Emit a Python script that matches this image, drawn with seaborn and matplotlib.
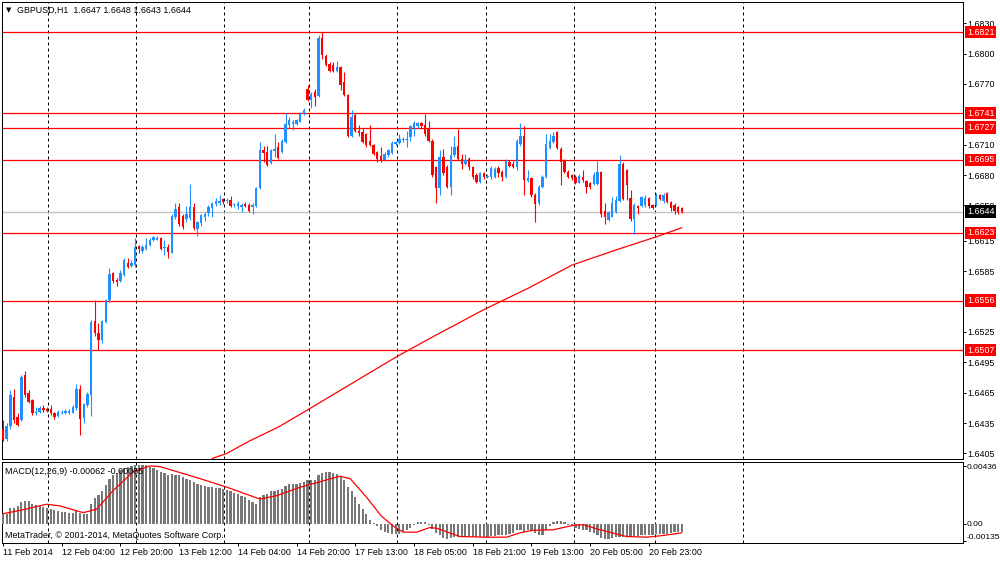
import matplotlib
matplotlib.use("Agg")
import matplotlib.pyplot as plt
import matplotlib.transforms as mtransforms
import numpy as np
import pandas as pd
import seaborn as sns

# ---------------- data ----------------
opens = [
    1.6429, 1.6419, 1.6432, 1.6461, 1.6441, 1.6438, 1.6482, 1.6465, 1.6458, 1.6445,
    1.6446, 1.6450, 1.6449, 1.6449, 1.6445, 1.6442, 1.6445, 1.6445, 1.6445, 1.6445,
    1.6450, 1.6469, 1.6440, 1.6453, 1.6463, 1.6536, 1.6524, 1.6517, 1.6535, 1.6557,
    1.6583, 1.6576, 1.6575, 1.6581, 1.6593, 1.6590, 1.6591, 1.6610, 1.6605, 1.6607,
    1.6611, 1.6616, 1.6616, 1.6618, 1.6608, 1.6609, 1.6603, 1.6639, 1.6648, 1.6640,
    1.6637, 1.6638, 1.6648, 1.6627, 1.6633, 1.6639, 1.6643, 1.6647, 1.6651, 1.6652,
    1.6656, 1.6654, 1.6655, 1.6650, 1.6649, 1.6648, 1.6651, 1.6650, 1.6648, 1.6649,
    1.6667, 1.6705, 1.6703, 1.6692, 1.6704, 1.6708, 1.6703, 1.6713, 1.6729, 1.6730,
    1.6730, 1.6732, 1.6740, 1.6765, 1.6754, 1.6762, 1.6758, 1.6815, 1.6798, 1.6790,
    1.6789, 1.6783, 1.6787, 1.6772, 1.6759, 1.6719, 1.6739, 1.6724, 1.6723, 1.6721,
    1.6714, 1.6710, 1.6703, 1.6699, 1.6695, 1.6700, 1.6702, 1.6711, 1.6712, 1.6715,
    1.6715, 1.6718, 1.6727, 1.6728, 1.6731, 1.6729, 1.6726, 1.6714, 1.6688, 1.6667,
    1.6698, 1.6688, 1.6668, 1.6700, 1.6709, 1.6696, 1.6691, 1.6696, 1.6688, 1.6680,
    1.6673, 1.6682, 1.6678, 1.6678, 1.6678, 1.6687, 1.6683, 1.6678, 1.6693, 1.6691,
    1.6688, 1.6711, 1.6719, 1.6674, 1.6677, 1.6660, 1.6652, 1.6668, 1.6678, 1.6707,
    1.6713, 1.6723, 1.6706, 1.6695, 1.6683, 1.6680, 1.6678, 1.6672, 1.6678, 1.6674,
    1.6672, 1.6671, 1.6671, 1.6683, 1.6645, 1.6636, 1.6639, 1.6644, 1.6654, 1.6691,
    1.6685, 1.6657, 1.6637, 1.6649, 1.6649, 1.6650, 1.6657, 1.6650, 1.6650, 1.6660,
    1.6654, 1.6662, 1.6653, 1.6650, 1.6648, 1.6647,
]
highs = [
    1.6438, 1.6435, 1.6468, 1.6469, 1.6445, 1.6482, 1.6486, 1.6468, 1.6459, 1.6451,
    1.6452, 1.6453, 1.6451, 1.6453, 1.6446, 1.6448, 1.6448, 1.6449, 1.6449, 1.6453,
    1.6474, 1.6473, 1.6455, 1.6466, 1.6537, 1.6557, 1.6534, 1.6537, 1.6558, 1.6588,
    1.6584, 1.6578, 1.6586, 1.6598, 1.6598, 1.6596, 1.6618, 1.6611, 1.6611, 1.6618,
    1.6618, 1.6620, 1.6620, 1.6619, 1.6616, 1.6612, 1.6642, 1.6652, 1.6652, 1.6642,
    1.6649, 1.6671, 1.6652, 1.6635, 1.6642, 1.6644, 1.6650, 1.6653, 1.6657, 1.6660,
    1.6657, 1.6657, 1.6659, 1.6652, 1.6654, 1.6652, 1.6653, 1.6652, 1.6652, 1.6668,
    1.6713, 1.6709, 1.6709, 1.6706, 1.6721, 1.6713, 1.6716, 1.6741, 1.6737, 1.6734,
    1.6735, 1.6742, 1.6746, 1.6769, 1.6762, 1.6765, 1.6818, 1.6821, 1.6800, 1.6792,
    1.6792, 1.6793, 1.6788, 1.6782, 1.6760, 1.6744, 1.6741, 1.6729, 1.6727, 1.6722,
    1.6729, 1.6711, 1.6704, 1.6708, 1.6703, 1.6706, 1.6714, 1.6714, 1.6721, 1.6718,
    1.6724, 1.6729, 1.6733, 1.6732, 1.6732, 1.6740, 1.6733, 1.6716, 1.6689, 1.6705,
    1.6706, 1.6690, 1.6709, 1.6719, 1.6726, 1.6701, 1.6701, 1.6698, 1.6689, 1.6682,
    1.6683, 1.6683, 1.6681, 1.6689, 1.6688, 1.6689, 1.6685, 1.6696, 1.6695, 1.6694,
    1.6716, 1.6731, 1.6728, 1.6685, 1.6678, 1.6662, 1.6670, 1.6680, 1.6721, 1.6721,
    1.6723, 1.6724, 1.6708, 1.6696, 1.6685, 1.6681, 1.6680, 1.6681, 1.6685, 1.6675,
    1.6673, 1.6683, 1.6694, 1.6684, 1.6652, 1.6645, 1.6658, 1.6659, 1.6700, 1.6693,
    1.6686, 1.6665, 1.6652, 1.6650, 1.6659, 1.6660, 1.6658, 1.6651, 1.6662, 1.6661,
    1.6662, 1.6663, 1.6654, 1.6652, 1.6649, 1.6648,
]
lows = [
    1.6417, 1.6417, 1.6429, 1.6435, 1.6432, 1.6437, 1.6461, 1.6455, 1.6443, 1.6443,
    1.6445, 1.6446, 1.6446, 1.6443, 1.6439, 1.6441, 1.6444, 1.6444, 1.6444, 1.6445,
    1.6448, 1.6423, 1.6435, 1.6451, 1.6442, 1.6521, 1.6507, 1.6514, 1.6534, 1.6555,
    1.6573, 1.6570, 1.6574, 1.6580, 1.6588, 1.6589, 1.6589, 1.6603, 1.6603, 1.6606,
    1.6610, 1.6615, 1.6616, 1.6606, 1.6601, 1.6598, 1.6603, 1.6637, 1.6630, 1.6627,
    1.6634, 1.6636, 1.6626, 1.6620, 1.6630, 1.6635, 1.6640, 1.6639, 1.6649, 1.6650,
    1.6651, 1.6652, 1.6648, 1.6648, 1.6646, 1.6644, 1.6648, 1.6644, 1.6642, 1.6648,
    1.6666, 1.6693, 1.6689, 1.6691, 1.6698, 1.6696, 1.6702, 1.6712, 1.6727, 1.6725,
    1.6729, 1.6732, 1.6739, 1.6753, 1.6746, 1.6748, 1.6757, 1.6795, 1.6788, 1.6782,
    1.6782, 1.6782, 1.6764, 1.6758, 1.6718, 1.6718, 1.6723, 1.6719, 1.6712, 1.6708,
    1.6709, 1.6700, 1.6693, 1.6693, 1.6694, 1.6698, 1.6701, 1.6710, 1.6711, 1.6713,
    1.6708, 1.6714, 1.6719, 1.6727, 1.6726, 1.6719, 1.6713, 1.6678, 1.6652, 1.6660,
    1.6680, 1.6667, 1.6660, 1.6698, 1.6695, 1.6686, 1.6690, 1.6685, 1.6676, 1.6672,
    1.6672, 1.6676, 1.6677, 1.6676, 1.6677, 1.6678, 1.6674, 1.6677, 1.6688, 1.6687,
    1.6685, 1.6709, 1.6660, 1.6673, 1.6658, 1.6634, 1.6650, 1.6667, 1.6677, 1.6706,
    1.6712, 1.6706, 1.6670, 1.6682, 1.6677, 1.6675, 1.6671, 1.6672, 1.6673, 1.6662,
    1.6666, 1.6670, 1.6670, 1.6639, 1.6632, 1.6635, 1.6639, 1.6643, 1.6653, 1.6655,
    1.6655, 1.6635, 1.6622, 1.6642, 1.6648, 1.6648, 1.6647, 1.6646, 1.6649, 1.6655,
    1.6652, 1.6652, 1.6645, 1.6642, 1.6642, 1.6643,
]
closes = [
    1.6418, 1.6432, 1.6463, 1.6438, 1.6433, 1.6481, 1.6463, 1.6456, 1.6445, 1.6446,
    1.6450, 1.6448, 1.6447, 1.6445, 1.6441, 1.6446, 1.6446, 1.6447, 1.6447, 1.6451,
    1.6469, 1.6439, 1.6454, 1.6464, 1.6535, 1.6524, 1.6517, 1.6536, 1.6557, 1.6582,
    1.6575, 1.6574, 1.6583, 1.6596, 1.6589, 1.6593, 1.6609, 1.6607, 1.6609, 1.6611,
    1.6616, 1.6619, 1.6618, 1.6607, 1.6609, 1.6604, 1.6640, 1.6646, 1.6632, 1.6629,
    1.6642, 1.6648, 1.6628, 1.6634, 1.6641, 1.6642, 1.6648, 1.6652, 1.6654, 1.6654,
    1.6653, 1.6655, 1.6649, 1.6651, 1.6652, 1.6650, 1.6649, 1.6645, 1.6650, 1.6667,
    1.6705, 1.6702, 1.6690, 1.6705, 1.6706, 1.6697, 1.6714, 1.6730, 1.6734, 1.6732,
    1.6734, 1.6740, 1.6744, 1.6754, 1.6760, 1.6757, 1.6815, 1.6799, 1.6789, 1.6783,
    1.6783, 1.6787, 1.6769, 1.6759, 1.6719, 1.6737, 1.6724, 1.6722, 1.6713, 1.6710,
    1.6710, 1.6701, 1.6696, 1.6695, 1.6701, 1.6705, 1.6712, 1.6713, 1.6716, 1.6716,
    1.6716, 1.6728, 1.6731, 1.6731, 1.6728, 1.6721, 1.6714, 1.6680, 1.6667, 1.6698,
    1.6682, 1.6668, 1.6700, 1.6708, 1.6696, 1.6691, 1.6695, 1.6688, 1.6678, 1.6673,
    1.6682, 1.6678, 1.6679, 1.6687, 1.6686, 1.6682, 1.6678, 1.6694, 1.6689, 1.6688,
    1.6714, 1.6719, 1.6675, 1.6677, 1.6660, 1.6651, 1.6668, 1.6678, 1.6711, 1.6714,
    1.6719, 1.6707, 1.6693, 1.6683, 1.6678, 1.6677, 1.6672, 1.6679, 1.6675, 1.6668,
    1.6668, 1.6680, 1.6683, 1.6642, 1.6639, 1.6644, 1.6652, 1.6655, 1.6691, 1.6656,
    1.6670, 1.6637, 1.6650, 1.6647, 1.6658, 1.6657, 1.6649, 1.6647, 1.6660, 1.6656,
    1.6660, 1.6653, 1.6647, 1.6645, 1.6644, 1.6644,
]
macd_hist = [
    0.00075, 0.00075, 0.00116, 0.00120, 0.00134, 0.00160, 0.00168, 0.00168, 0.00152, 0.00142,
    0.00134, 0.00127, 0.00116, 0.00109, 0.00101, 0.00096, 0.00090, 0.00085, 0.00080, 0.00083,
    0.00096, 0.00083, 0.00075, 0.00075, 0.00147, 0.00194, 0.00220, 0.00250, 0.00290, 0.00340,
    0.00367, 0.00385, 0.00406, 0.00419, 0.00426, 0.00437, 0.00442, 0.00444, 0.00444, 0.00442,
    0.00432, 0.00419, 0.00406, 0.00393, 0.00380, 0.00367, 0.00375, 0.00372, 0.00367, 0.00354,
    0.00341, 0.00333, 0.00318, 0.00302, 0.00289, 0.00282, 0.00276, 0.00276, 0.00271, 0.00271,
    0.00266, 0.00256, 0.00245, 0.00235, 0.00225, 0.00212, 0.00199, 0.00178, 0.00160, 0.00152,
    0.00199, 0.00220, 0.00225, 0.00245, 0.00250, 0.00256, 0.00264, 0.00284, 0.00297, 0.00302,
    0.00302, 0.00307, 0.00315, 0.00333, 0.00328, 0.00328, 0.00367, 0.00385, 0.00393, 0.00390,
    0.00385, 0.00375, 0.00354, 0.00328, 0.00276, 0.00245, 0.00204, 0.00147, 0.00109, 0.00070,
    0.00031, 0.00005, -0.00020, -0.00050, -0.00060, -0.00070, -0.00075, -0.00080, -0.00080, -0.00065,
    -0.00050, -0.00030, -0.00010, 0.00010, 0.00010, 0.00010, -0.00010, -0.00040, -0.00070, -0.00090,
    -0.00110, -0.00120, -0.00110, -0.00100, -0.00100, -0.00100, -0.00105, -0.00100, -0.00100, -0.00105,
    -0.00100, -0.00100, -0.00100, -0.00095, -0.00095, -0.00090, -0.00090, -0.00085, -0.00080, -0.00070,
    -0.00050, -0.00050, -0.00060, -0.00050, -0.00050, -0.00070, -0.00090, -0.00090, -0.00050, -0.00020,
    0.00010, 0.00020, 0.00020, 0.00010, -0.00010, -0.00020, -0.00030, -0.00040, -0.00050, -0.00050,
    -0.00060, -0.00070, -0.00090, -0.00110, -0.00120, -0.00120, -0.00110, -0.00100, -0.00100, -0.00100,
    -0.00100, -0.00100, -0.00095, -0.00095, -0.00090, -0.00090, -0.00090, -0.00085, -0.00080, -0.00080,
    -0.00080, -0.00075, -0.00070, -0.00065, -0.00065, -0.00062,
]
signal_bars = [0, 4.6, 11.9, 15.5, 21.9, 25.5, 30, 35.5, 40, 42.8, 53.7, 61, 70, 74.6, 81,
               91.8, 94.6, 99.1, 103, 106.4, 109.1, 112.7, 116.3, 118.2, 124.5, 131.8,
               137.2, 140.9, 144.5, 149.9, 155.4, 158.1, 161.8, 169.9, 175.4, 179.9, 185]
signal_vals = [0.00075, 0.00100, 0.00147, 0.00134, 0.00083, 0.00109, 0.00250, 0.00393,
               0.00437, 0.00432, 0.00341, 0.00276, 0.00186, 0.00212, 0.00276, 0.00359,
               0.00341, 0.00199, 0.00060, -0.00020, -0.00065, -0.00065, -0.00030, -0.00035,
               -0.00098, -0.00103, -0.00103, -0.00070, -0.00050, -0.00047, -0.00013,
               -0.00008, -0.00040, -0.00098, -0.00103, -0.00090, -0.00070]
ma_bars = [57, 61, 67, 75, 83, 95, 107, 117, 131, 143, 155, 167, 178, 185]
ma_vals = [1.6400, 1.6405, 1.6417, 1.6431, 1.6448, 1.6474, 1.6500, 1.6520, 1.6547,
           1.6568, 1.6591, 1.6606, 1.6619, 1.6628]
level_prices = [1.6821, 1.6741, 1.6727, 1.6695, 1.6623, 1.6556, 1.6507]
current_price = 1.6644
price_ticks = [1.6830, 1.6800, 1.6770, 1.6710, 1.6680, 1.6650, 1.6615, 1.6585,
               1.6525, 1.6495, 1.6465, 1.6435, 1.6405]
macd_ticks = [0.00436, 0.0, -0.00135]
macd_tick_labels = ["0.00436", "0.00", "-0.00135"]
time_labels = ["11 Feb 2014", "12 Feb 04:00", "12 Feb 20:00", "13 Feb 12:00",
               "14 Feb 04:00", "14 Feb 20:00", "17 Feb 13:00", "18 Feb 05:00",
               "18 Feb 21:00", "19 Feb 13:00", "20 Feb 05:00", "20 Feb 23:00"]
title_text = "GBPUSD,H1  1.6647 1.6648 1.6643 1.6644"
macd_text = "MACD(12,26,9) -0.00062 -0.00065"
copyright_text = "MetaTrader, \u00a9 2001-2014, MetaQuotes Software Corp."

# ---------------- layout constants ----------------
W, H = 1000, 561
time_label_bars = [0, 16, 32, 48, 64, 80, 96, 112, 128, 144, 160, 176]
grid_bars = [12.2, 36.2, 60.2, 83.3, 107.4, 131.6, 155.6, 177.7, 201.6]
XLIM = (-0.27, 261.6)
UP, DOWN = "#1E90FF", "#FF0000"
FS = 6.4

sns.set_style("white")
plt.rcParams["font.family"] = ["Liberation Sans", "DejaVu Sans"]

df = pd.DataFrame({"o": opens, "h": highs, "l": lows, "c": closes})
df["x"] = np.arange(len(df))
df["up"] = df["c"] >= df["o"]
df["col"] = np.where(df["up"], UP, DOWN)

fig = plt.figure(figsize=(W / 100, H / 100), dpi=100)
fig.patch.set_facecolor("white")

def fx(px):
    return px / W

def fy(py):
    return 1 - py / H

ax = fig.add_axes([fx(2), fy(459), fx(963) - fx(2), fy(2) - fy(459)])
ax2 = fig.add_axes([fx(2), fy(543), fx(963) - fx(2), fy(462) - fy(543)])

for a in (ax, ax2):
    a.set_facecolor("white")
    a.set_xlim(*XLIM)
    for s in a.spines.values():
        s.set_color("#000000")
        s.set_linewidth(0.72)
    for g in grid_bars:
        a.axvline(g, color="black", lw=0.72, ls=(0, (3, 3)), zorder=1)

ax.set_ylim(1.63995, 1.6851)
ax2.set_ylim(-0.00147, 0.00467)

# horizontal levels
for p in level_prices:
    ax.axhline(p, color="#FF0000", lw=0.9, zorder=2)
ax.axhline(current_price, color="#C0C0C0", lw=0.9, zorder=2)

# candles
ax.vlines(df["x"], df["l"], df["h"], colors=df["col"], lw=0.8, zorder=3)
body = (df["c"] - df["o"]).abs().clip(lower=0.00002)
ax.bar(df["x"], body, bottom=df[["o", "c"]].min(axis=1), width=0.65,
       color=df["col"], linewidth=0, zorder=4)

# moving average
sns.lineplot(x=ma_bars, y=ma_vals, ax=ax, color="#FF0000", lw=0.9, zorder=5)

# MACD
ax2.bar(np.arange(len(macd_hist)), macd_hist, width=0.6, color="#777777",
        linewidth=0, zorder=3)
sns.lineplot(x=signal_bars, y=signal_vals, ax=ax2, color="#FF0000", lw=0.9, zorder=4)

for a in (ax, ax2):
    a.set_xlabel("")
    a.set_ylabel("")

# y axes on the right
ax.yaxis.tick_right()
ax.set_yticks(price_ticks)
ax.set_yticklabels([f"{t:.4f}" for t in price_ticks])
ax.tick_params(axis="y", which="both", right=True, left=False, direction="out",
               length=2.2, width=0.72, pad=1.2, labelsize=FS, colors="black")
ax2.yaxis.tick_right()
ax2.set_yticks(macd_ticks)
ax2.set_yticklabels(macd_tick_labels)
ax2.tick_params(axis="y", which="both", right=True, left=False, direction="out",
                length=2.2, width=0.72, pad=0.6, labelsize=6.0, colors="black")
ylabels = ax2.get_yticklabels()
ylabels[2].set_verticalalignment("bottom")

ax.set_xticks([])
ax2.set_xticks(time_label_bars)
ax2.set_xticklabels(time_labels, ha="left")
ax2.tick_params(axis="x", bottom=True, direction="out", length=2.2, width=0.72,
                pad=1.5, labelsize=FS, colors="black")

# price boxes on the right axis
trans = mtransforms.blended_transform_factory(ax.transAxes, ax.transData)
xbox = (967 - 2) / (963 - 2)
for p in level_prices:
    ax.text(xbox, p, f"{p:.4f}", transform=trans, ha="left", va="center",
            fontsize=FS, color="white", clip_on=False, zorder=10,
            bbox=dict(boxstyle="square,pad=0.18", fc="#FF0000", ec="none"))
ax.text(xbox, current_price, f"{current_price:.4f}", transform=trans, ha="left",
        va="center", fontsize=FS, color="white", clip_on=False, zorder=10,
        bbox=dict(boxstyle="square,pad=0.18", fc="#000000", ec="none"))

# texts
fig.text(fx(6), fy(10), "\u25bc", fontsize=5, color="black", va="center", ha="left",
         family=["DejaVu Sans"])
fig.text(fx(17), fy(10), title_text, fontsize=FS, color="black", va="center", ha="left")
fig.text(fx(5), fy(471), macd_text, fontsize=FS, color="black", va="center", ha="left")
fig.text(fx(5), fy(536), copyright_text, fontsize=FS, color="black", va="center", ha="left")

fig.savefig("out.png", dpi=100, facecolor="white")
